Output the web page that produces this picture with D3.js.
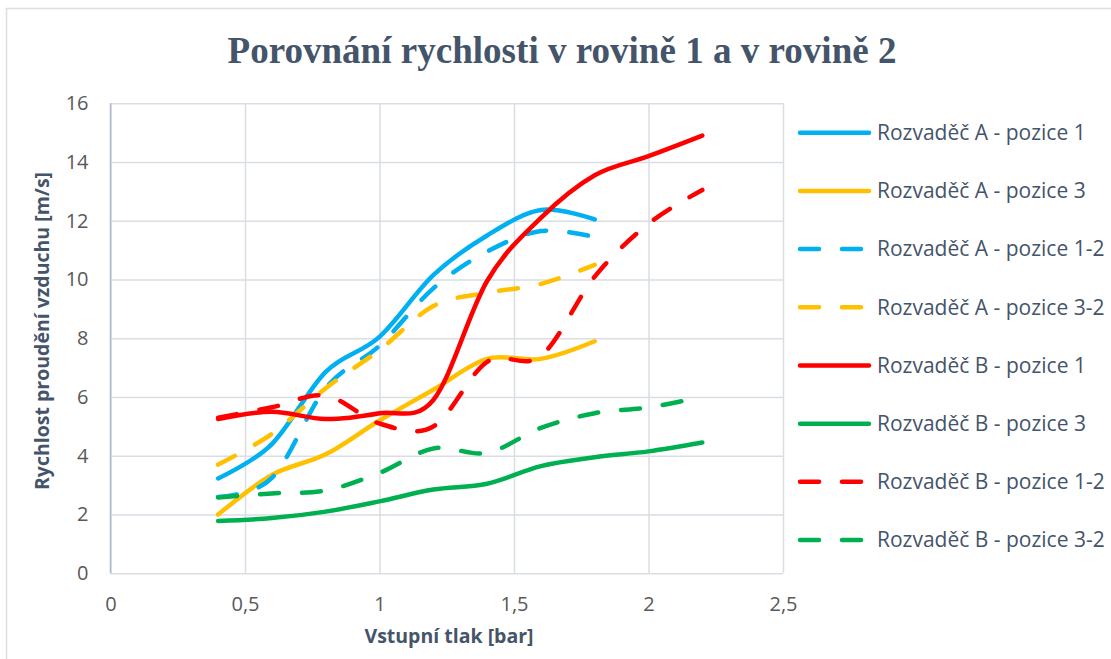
<!DOCTYPE html>
<html>
<head>
<meta charset="utf-8">
<script src="https://cdn.jsdelivr.net/npm/d3@7"></script>
<style>
  body { margin: 0; background: #fff; }
  svg { display: block; }
  text { font-family: "Open Sans", sans-serif; }
</style>
</head>
<body>
<svg id="chart" width="1111" height="659"></svg>
<script>
// Inlet pressure [bar]
const pressureA = [0.4, 0.6, 0.8, 1.0, 1.2, 1.4, 1.6, 1.8];
const pressureB = [0.4, 0.6, 0.8, 1.0, 1.2, 1.4, 1.6, 1.8, 2.0, 2.2];

// Air flow velocity [m/s]
const aPos1  = [3.23, 4.4, 6.86, 8.05, 10.15, 11.5, 12.37, 12.05];
const aPos3  = [2.0, 3.35, 4.05, 5.2, 6.25, 7.3, 7.3, 7.9];
const aPos12 = [2.6, 3.25, 6.3, 7.75, 9.7, 10.95, 11.65, 11.45];
const aPos32 = [3.7, 4.75, 6.3, 7.6, 9.1, 9.55, 9.85, 10.5];
const bPos1  = [5.25, 5.5, 5.25, 5.45, 5.9, 9.95, 12.1, 13.55, 14.2, 14.9];
const bPos3  = [1.78, 1.88, 2.1, 2.45, 2.85, 3.05, 3.65, 3.95, 4.15, 4.45];
const bPos12 = [5.3, 5.65, 6.05, 5.1, 5.0, 7.2, 7.4, 10.1, 11.9, 13.05];
const bPos32 = [2.58, 2.72, 2.82, 3.42, 4.25, 4.1, 4.95, 5.45, 5.65, 6.0];

const seriesNames = [
  "Rozvaděč A - pozice 1", "Rozvaděč A - pozice 3", "Rozvaděč A - pozice 1-2", "Rozvaděč A - pozice 3-2",
  "Rozvaděč B - pozice 1", "Rozvaděč B - pozice 3", "Rozvaděč B - pozice 1-2", "Rozvaděč B - pozice 3-2"
];
const xTicks = [0, 0.5, 1, 1.5, 2, 2.5];
const yTicks = [0, 2, 4, 6, 8, 10, 12, 14, 16];

const series = [
  { name: seriesNames[0], x: pressureA, y: aPos1,  color: "#00B0F0", dashed: false },
  { name: seriesNames[1], x: pressureA, y: aPos3,  color: "#FFC000", dashed: false },
  { name: seriesNames[2], x: pressureA, y: aPos12, color: "#00B0F0", dashed: true },
  { name: seriesNames[3], x: pressureA, y: aPos32, color: "#FFC000", dashed: true },
  { name: seriesNames[4], x: pressureB, y: bPos1,  color: "#FF0000", dashed: false },
  { name: seriesNames[5], x: pressureB, y: bPos3,  color: "#00B050", dashed: false },
  { name: seriesNames[6], x: pressureB, y: bPos12, color: "#FF0000", dashed: true },
  { name: seriesNames[7], x: pressureB, y: bPos32, color: "#00B050", dashed: true }
];

const svg = d3.select("#chart");
const plot = { left: 110.5, right: 783, top: 103.3, bottom: 573.3 };
const dash = "19,23";
const lineW = 4.5;

// Outer chart frame
svg.append("rect")
  .attr("x", 6.5).attr("y", 8.5).attr("width", 1120).attr("height", 700)
  .attr("fill", "#fff").attr("stroke", "#D9DDE4").attr("stroke-width", 1.5);

const x = d3.scaleLinear().domain([0, 2.5]).range([plot.left, plot.right]);
const y = d3.scaleLinear().domain([0, 16]).range([plot.bottom, plot.top]);

// Gridlines
svg.append("g")
  .attr("transform", `translate(0,${plot.bottom})`)
  .call(d3.axisBottom(x).tickValues(xTicks).tickSize(-(plot.bottom - plot.top)).tickFormat(""))
  .call(g => g.select(".domain").remove())
  .call(g => g.selectAll("line").attr("stroke", "#D9DDE4").attr("stroke-width", 1.5));

svg.append("g")
  .attr("transform", `translate(${plot.left},0)`)
  .call(d3.axisLeft(y).tickValues(yTicks).tickSize(-(plot.right - plot.left)).tickFormat(""))
  .call(g => g.select(".domain").remove())
  .call(g => g.selectAll("line").attr("stroke", "#D9DDE4").attr("stroke-width", 1.5));

// Vertical axis line
svg.append("line")
  .attr("x1", plot.left).attr("x2", plot.left)
  .attr("y1", plot.top).attr("y2", plot.bottom)
  .attr("stroke", "#ADB9CA").attr("stroke-width", 1.5);

// Tick labels (decimal comma)
const fmt = d => String(d).replace(".", ",");
svg.append("g")
  .attr("transform", `translate(0,${plot.bottom})`)
  .call(d3.axisBottom(x).tickValues(xTicks).tickSize(0).tickPadding(24).tickFormat(fmt))
  .call(g => g.select(".domain").remove())
  .call(g => g.selectAll("text")
    .attr("fill", "#595959").style("font-size", "20px").style("font-family", "Open Sans, sans-serif"));

svg.append("g")
  .attr("transform", `translate(${plot.left},0)`)
  .call(d3.axisLeft(y).tickValues(yTicks).tickSize(0).tickPadding(22).tickFormat(fmt))
  .call(g => g.select(".domain").remove())
  .call(g => g.selectAll("text")
    .attr("fill", "#595959").style("font-size", "20px").style("font-family", "Open Sans, sans-serif"));

// Series lines, smoothed
const line = d3.line()
  .x(d => x(d[0]))
  .y(d => y(d[1]))
  .curve(d3.curveCardinal.tension(0));

svg.append("g").selectAll("path")
  .data(series)
  .join("path")
  .attr("d", s => line(s.x.map((v, i) => [v, s.y[i]])))
  .attr("fill", "none")
  .attr("stroke", s => s.color)
  .attr("stroke-width", lineW)
  .attr("stroke-linecap", "round")
  .attr("stroke-linejoin", "round")
  .attr("stroke-dasharray", s => s.dashed ? dash : null);

// Title
svg.append("text")
  .attr("x", 562).attr("y", 63)
  .attr("text-anchor", "middle")
  .attr("textLength", 669).attr("lengthAdjust", "spacingAndGlyphs")
  .style("font-family", "'Liberation Serif', 'Times New Roman', serif")
  .style("font-weight", "bold").style("font-size", "38px")
  .attr("fill", "#44546A")
  .text("Porovnání rychlosti v rovině 1 a v rovině 2");

// Axis titles
svg.append("text")
  .attr("x", 449).attr("y", 643)
  .attr("text-anchor", "middle")
  .style("font-weight", "bold").style("font-size", "19.5px")
  .attr("fill", "#44546A")
  .text("Vstupní tlak [bar]");

svg.append("text")
  .attr("transform", `translate(49,331) rotate(-90)`)
  .attr("text-anchor", "middle")
  .style("font-weight", "bold").style("font-size", "19.5px")
  .attr("fill", "#44546A")
  .text("Rychlost proudění vzduchu [m/s]");

// Legend
const legend = svg.append("g");
const legendY = d3.scaleLinear().domain([0, 7]).range([132.7, 540]);
const rows = legend.selectAll("g").data(series).join("g")
  .attr("transform", (s, i) => `translate(0,${legendY(i)})`);
rows.append("line")
  .attr("x1", 800).attr("x2", 869).attr("y1", 0).attr("y2", 0)
  .attr("stroke", s => s.color).attr("stroke-width", lineW)
  .attr("stroke-linecap", "round")
  .attr("stroke-dasharray", s => s.dashed ? dash : null);
rows.append("text")
  .attr("x", 877).attr("y", 0).attr("dy", "0.35em")
  .style("font-size", "21px")
  .attr("fill", "#44546A")
  .text(s => s.name);
</script>
</body>
</html>
